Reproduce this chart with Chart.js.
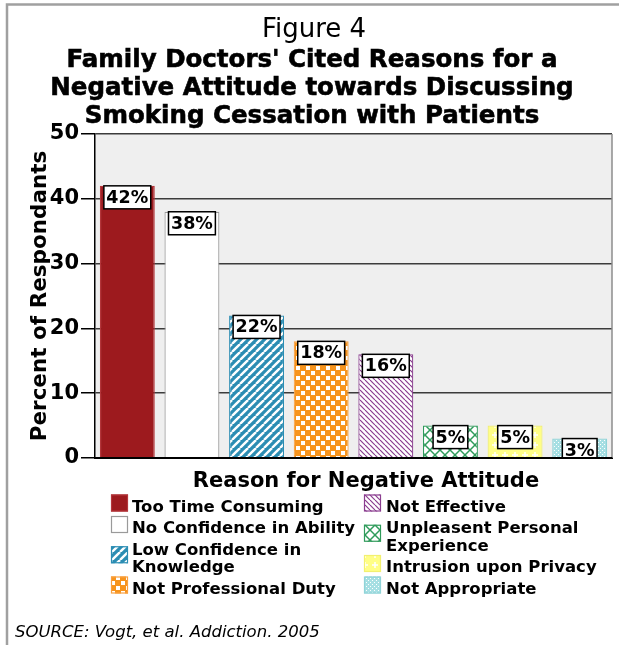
<!DOCTYPE html>
<html>
<head>
<meta charset="utf-8">
<title>Figure 4</title>
<script src="https://cdn.jsdelivr.net/npm/chart.js@4.4.0/dist/chart.umd.min.js"></script>
<style>
  html, body { margin: 0; padding: 0; background: #fff; }
  #wrap { position: relative; width: 619px; height: 645px; }
</style>
</head>
<body>
<div id="wrap"><canvas id="reasonsChart" width="619" height="645"></canvas></div>
<script>
const figureLabel = 'Figure 4';
const titleLines = [
  "Family Doctors' Cited Reasons for a",
  'Negative Attitude towards Discussing',
  'Smoking Cessation with Patients'
];
const categories = [
  ['Too Time Consuming'],
  ['No Confidence in Ability'],
  ['Low Confidence in', 'Knowledge'],
  ['Not Professional Duty'],
  ['Not Effective'],
  ['Unpleasent Personal', 'Experience'],
  ['Intrusion upon Privacy'],
  ['Not Appropriate']
];
const percents = [42, 38, 22, 18, 16, 5, 5, 3];
const yTitle = 'Percent of Respondants';
const xTitle = 'Reason for Negative Attitude';
const sourceNote = 'SOURCE: Vogt, et al. Addiction. 2005';

const FONT = 'DejaVu Sans';

// small repeating tiles for the hatched bars
function tile(size, paint) {
  const c = document.createElement('canvas');
  c.width = size;
  c.height = size;
  const g = c.getContext('2d');
  paint(g, size);
  return g.createPattern(c, 'repeat');
}

function diagonals(g, s, color, width, dir) {
  g.strokeStyle = color;
  g.lineWidth = width;
  for (let k = -1; k <= 1; k++) {
    g.beginPath();
    if (dir > 0) {
      g.moveTo(k * s, s);
      g.lineTo(k * s + s, 0);
    } else {
      g.moveTo(k * s, 0);
      g.lineTo(k * s + s, s);
    }
    g.stroke();
  }
}

const fills = [
  '#9d1a1e',
  '#ffffff',
  tile(8, (g, s) => {
    g.fillStyle = '#2b8db3';
    g.fillRect(0, 0, s, s);
    diagonals(g, s, '#ffffff', 2.4, 1);
  }),
  tile(10, (g, s) => {
    g.fillStyle = '#f7941d';
    g.fillRect(0, 0, s, s);
    g.fillStyle = '#ffffff';
    g.fillRect(1, 1, 4, 4);
    g.fillRect(6, 6, 4, 4);
  }),
  tile(5, (g, s) => {
    g.fillStyle = '#ffffff';
    g.fillRect(0, 0, s, s);
    diagonals(g, s, '#8a3d8f', 1.2, -1);
  }),
  tile(10, (g, s) => {
    g.fillStyle = '#ffffff';
    g.fillRect(0, 0, s, s);
    diagonals(g, s, '#2f9b5b', 1.5, 1);
    diagonals(g, s, '#2f9b5b', 1.5, -1);
  }),
  tile(10, (g, s) => {
    g.fillStyle = '#fffe86';
    g.fillRect(0, 0, s, s);
    g.fillStyle = '#ffffff';
    g.fillRect(2, 4.25, 6, 1.5);
    g.fillRect(4.25, 2, 1.5, 6);
  }),
  tile(4, (g, s) => {
    g.fillStyle = '#a6dfe3';
    g.fillRect(0, 0, s, s);
    g.fillStyle = '#ffffff';
    g.fillRect(0, 0, 1, 1);
    g.fillRect(2, 2, 1, 1);
  })
];
const edges = ['#b4353a', '#9a9a9a', '#2b8db3', '#f9a040', '#8a3d8f', '#2f9b5b', '#f2f070', '#8fd3d8'];

const figureDecor = {
  id: 'figureDecor',
  beforeDraw(chart) {
    const { ctx, chartArea: a } = chart;
    ctx.save();
    ctx.fillStyle = '#efefef';
    ctx.fillRect(a.left, a.top, a.right - a.left, a.bottom - a.top);
    ctx.restore();
  },
  afterDatasetsDraw(chart) {
    const { ctx, chartArea: a } = chart;
    const bars = chart.getDatasetMeta(0).data;
    ctx.save();
    ctx.beginPath();
    ctx.rect(a.left, a.top, a.right - a.left, a.bottom - a.top);
    ctx.clip();
    ctx.font = `bold 17.5px "${FONT}"`;
    ctx.textAlign = 'center';
    ctx.textBaseline = 'middle';
    bars.forEach((bar, i) => {
      const text = percents[i] + '%';
      const w = ctx.measureText(text).width + 5;
      const h = 23;
      ctx.fillStyle = '#ffffff';
      ctx.fillRect(bar.x - w / 2, bar.y, w, h);
      ctx.strokeStyle = '#000000';
      ctx.lineWidth = 1.5;
      ctx.strokeRect(bar.x - w / 2, bar.y, w, h);
      ctx.fillStyle = '#000000';
      ctx.fillText(text, bar.x, bar.y + h / 2 + 1);
    });
    ctx.restore();

    // right edge of the plot and the baseline over the bar feet
    ctx.save();
    ctx.strokeStyle = '#8c8c8c';
    ctx.lineWidth = 1.5;
    ctx.beginPath();
    ctx.moveTo(a.right, a.top);
    ctx.lineTo(a.right, a.bottom);
    ctx.stroke();
    ctx.strokeStyle = '#000000';
    ctx.lineWidth = 2;
    ctx.beginPath();
    ctx.moveTo(a.left, a.bottom);
    ctx.lineTo(a.right, a.bottom);
    ctx.stroke();
    ctx.restore();
  },
  afterDraw(chart) {
    const { ctx } = chart;
    ctx.save();

    // frame
    ctx.strokeStyle = '#a0a0a0';
    ctx.lineWidth = 2.5;
    ctx.beginPath();
    ctx.moveTo(7, 645);
    ctx.lineTo(7, 4.5);
    ctx.lineTo(619, 4.5);
    ctx.stroke();

    // headings
    ctx.fillStyle = '#000000';
    ctx.textAlign = 'center';
    ctx.textBaseline = 'alphabetic';
    ctx.font = `26px "${FONT}"`;
    ctx.fillText(figureLabel, 314, 36.5);
    ctx.font = `bold 24.5px "${FONT}"`;
    ctx.strokeStyle = '#000000';
    ctx.lineWidth = 0.6;
    titleLines.forEach((line, i) => {
      ctx.fillText(line, 312, 67 + i * 28);
      ctx.strokeText(line, 312, 67 + i * 28);
    });

    // category axis title
    ctx.font = `bold 21px "${FONT}"`;
    ctx.fillText(xTitle, 366, 487);

    // legend, two columns of four
    ctx.textAlign = 'left';
    ctx.font = `bold 16.5px "${FONT}"`;
    const cols = [{ sw: 111, tx: 132 }, { sw: 364, tx: 386 }];
    cols.forEach((col, c) => {
      let base = 511.5;
      for (let i = c * 4; i < c * 4 + 4; i++) {
        const lines = categories[i];
        const baselines = lines.map((_, k) => base + k * 17.5);
        const mid = baselines.reduce((s, v) => s + v, 0) / baselines.length;
        ctx.fillStyle = fills[i];
        ctx.fillRect(col.sw, mid - 17, 17, 17);
        ctx.strokeStyle = edges[i];
        ctx.lineWidth = 1.2;
        ctx.strokeRect(col.sw + 0.5, mid - 16.5, 16, 16);
        ctx.fillStyle = '#000000';
        lines.forEach((line, k) => ctx.fillText(line, col.tx, baselines[k]));
        base += (lines.length - 1) * 17.5 + 21.5;
      }
    });

    // source line
    ctx.font = `italic 16.5px "${FONT}"`;
    ctx.fillText(sourceNote, 15, 637);
    ctx.restore();
  }
};

new Chart(document.getElementById('reasonsChart'), {
  type: 'bar',
  data: {
    labels: categories.map(c => c.join(' ')),
    datasets: [{
      data: percents,
      backgroundColor: fills,
      borderColor: edges,
      borderWidth: 1.2,
      categoryPercentage: 1,
      barPercentage: 0.85
    }]
  },
  options: {
    responsive: false,
    animation: false,
    devicePixelRatio: 1,
    layout: { padding: { left: 8, right: 7, top: 134, bottom: 187 } },
    plugins: {
      legend: { display: false },
      tooltip: { enabled: false },
      title: { display: false }
    },
    scales: {
      x: {
        ticks: { display: false },
        grid: { display: false },
        border: { color: '#000000', width: 2 },
        afterFit(scale) { scale.height = 0; }
      },
      y: {
        min: 0,
        max: 50,
        ticks: {
          stepSize: 10,
          color: '#000000',
          padding: 2,
          font: { family: FONT, weight: 'bold', size: 21 }
        },
        grid: { color: '#3c3c3c', lineWidth: 1.5, tickColor: '#000000', tickLength: 14 },
        border: { color: '#000000', width: 1.5 },
        title: {
          display: true,
          text: yTitle,
          color: '#000000',
          font: { family: FONT, weight: 'bold', size: 21.5 },
          padding: { top: 20, bottom: 0 }
        },
        afterFit(scale) { scale.width = 87; }
      }
    }
  },
  plugins: [figureDecor]
});
</script>
</body>
</html>
